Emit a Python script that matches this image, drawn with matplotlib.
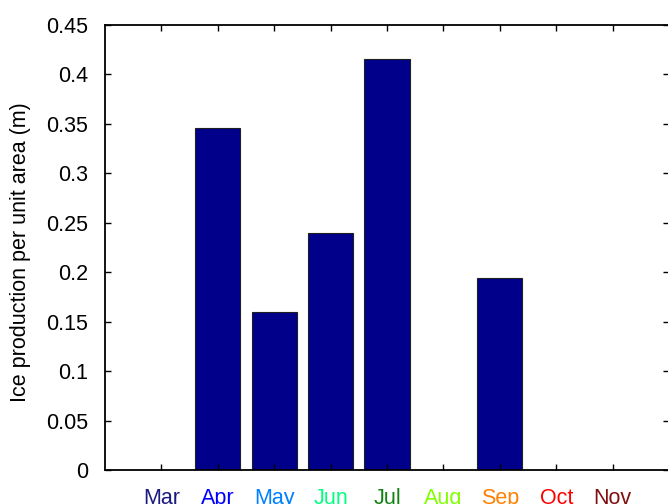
import matplotlib.pyplot as plt
import numpy as np

plt.rcParams['font.family'] = ['Liberation Sans', 'DejaVu Sans']

months = ['Mar', 'Apr', 'May', 'Jun', 'Jul', 'Aug', 'Sep', 'Oct', 'Nov']
ice = [0.0, 0.346, 0.16, 0.24, 0.416, 0.0, 0.194, 0.0, 0.0]
month_colors = ['#1a1a80', '#0000ff', '#0080ff', '#00ff80', '#108010',
                '#80ff00', '#ff8000', '#ff0000', '#801010']

fig = plt.figure(figsize=(6.68, 5.04), dpi=100)
ax = fig.add_axes([105 / 668, 34 / 504, 564 / 668, 445 / 504])

x = np.arange(1, len(months) + 1)
ax.bar(x, ice, width=0.8, color='#00008b', edgecolor='#202020', linewidth=0.8)

ax.set_xlim(0, 10)
ax.set_ylim(0, 0.45)
ax.set_yticks(np.arange(0, 0.451, 0.05))
ax.set_yticklabels(['0', '0.05', '0.1', '0.15', '0.2', '0.25', '0.3', '0.35', '0.4', '0.45'])
ax.set_xticks(x)
ax.set_xticklabels(months)
for lab, c in zip(ax.get_xticklabels(), month_colors):
    lab.set_color(c)

ax.tick_params(axis='both', direction='in', top=True, right=True, length=4,
               width=1, labelsize=15.5)
ax.tick_params(axis='x', pad=13)
ax.tick_params(axis='y', pad=12)
for s in ax.spines.values():
    s.set_linewidth(1.3)

ax.set_ylabel('Ice production per unit area (m)', fontsize=15.5)
ax.yaxis.set_label_coords(-0.131, 0.49)

fig.savefig('out.png', dpi=100)
